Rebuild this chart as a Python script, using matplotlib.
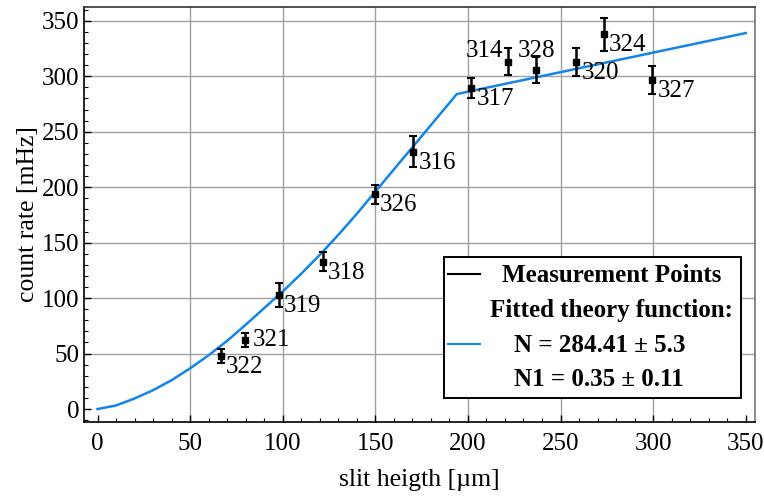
import numpy as np
import matplotlib.pyplot as plt
from matplotlib.lines import Line2D
from matplotlib.patches import Rectangle
from matplotlib.ticker import MultipleLocator

plt.rcParams['font.family'] = ['Liberation Serif', 'DejaVu Serif']

# measurement points (slit height, count rate, error, run number)
x_meas = [66.7, 79.7, 98.1, 121.7, 149.9, 170.6, 201.8, 221.6, 236.7, 258.5, 273.6, 299.6]
y_meas = [47.8, 62.2, 102.8, 132.9, 193.7, 232.1, 289.3, 313.3, 305.8, 312.7, 338.0, 296.8]
y_err = [6.5, 6.0, 10.5, 8.5, 8.5, 14.0, 9.0, 12.5, 11.5, 12.7, 15.0, 12.4]
run_ids = ['322', '321', '319', '318', '326', '316', '317', '314', '328', '320', '324', '327']

# fitted theory curve
x_fit = [0, 10, 20, 30, 40, 50, 60, 70, 80, 90, 100, 110, 120, 130, 140,
         150, 160, 170, 180, 190, 194, 350]
y_fit = [0, 3.2, 9.5, 17, 26, 36.7, 48.5, 61.5, 76, 91, 106, 122, 139, 157, 176,
         196, 216, 236, 256, 276, 284, 339]

# label offsets in pixels (dx, dy, ha)
offsets = {'314': (-5, 11, 'right'), '328': (1, 19, 'center'), '321': (8, 0, 'left')}

fig = plt.figure(figsize=(7.64, 4.96), dpi=100)
ax = fig.add_axes([84 / 764, 1 - 422 / 496, (755 - 84) / 764, (422 - 7) / 496])

ax.plot(x_fit, y_fit, color='#1284ea', lw=1.8, zorder=3)
ax.errorbar(x_meas, y_meas, yerr=y_err, fmt='s', color='black', ms=4.2,
            elinewidth=1.8, capsize=2.8, capthick=1.5, zorder=4)

for xi, yi, lab in zip(x_meas, y_meas, run_ids):
    dx, dy, ha = offsets.get(lab, (5, -11, 'left'))
    ax.annotate(lab, (xi, yi), xytext=(dx * 0.72, dy * 0.72), textcoords='offset points',
                ha=ha, va='center', fontsize=18, zorder=5)

ax.set_xlim(-7.3, 355)
ax.set_ylim(-11.7, 362.5)
ax.xaxis.set_major_locator(MultipleLocator(50))
ax.xaxis.set_minor_locator(MultipleLocator(10))
ax.yaxis.set_major_locator(MultipleLocator(50))
ax.yaxis.set_minor_locator(MultipleLocator(10))
ax.tick_params(which='both', direction='in', top=False, right=False, labelsize=18)
ax.tick_params(which='major', length=5, width=1)
ax.tick_params(axis='x', which='major', pad=8)
ax.tick_params(which='minor', length=3, width=0.8)

for g in [50, 100, 150, 200, 250, 300]:
    ax.axvline(g, color='#a0a0a0', lw=1, zorder=1)
for g in [50, 100, 150, 200, 250, 300, 350]:
    ax.axhline(g, color='#a0a0a0', lw=1, zorder=1)

for s in ax.spines.values():
    s.set_linewidth(1.2)
ax.spines['top'].set_color('#333333')
ax.spines['right'].set_color('#777777')

ax.set_xlabel('slit heigth [µm]', fontsize=18.5, labelpad=10)
ax.set_ylabel('count rate [mHz]', fontsize=18.5, labelpad=2)

# legend box drawn by hand (figure pixel coordinates)
def fx(px):
    return px / 764

def fy(py):
    return 1 - py / 496

fig.patches.append(Rectangle((fx(444), fy(398)), fx(741) - fx(444), fy(257) - fy(398),
                             transform=fig.transFigure, facecolor='white',
                             edgecolor='black', lw=1.4, zorder=10))
fig.lines.append(Line2D([fx(448), fx(480)], [fy(274), fy(274)], transform=fig.transFigure,
                        color='black', lw=1.5, zorder=11))
fig.lines.append(Line2D([fx(448), fx(480)], [fy(344), fy(344)], transform=fig.transFigure,
                        color='#1284ea', lw=1.5, zorder=11))
legend_rows = [('Measurement Points', 612, 275), ('Fitted theory function:', 611, 310),
               ('N = 284.41 ± 5.3', 600, 346), ('N1 = 0.35 ± 0.11', 599, 379)]
for txt, px, py in legend_rows:
    fig.text(fx(px), fy(py), txt, ha='center', va='center', fontsize=18,
             fontweight='bold', zorder=12)

fig.savefig('out.png', dpi=100)
